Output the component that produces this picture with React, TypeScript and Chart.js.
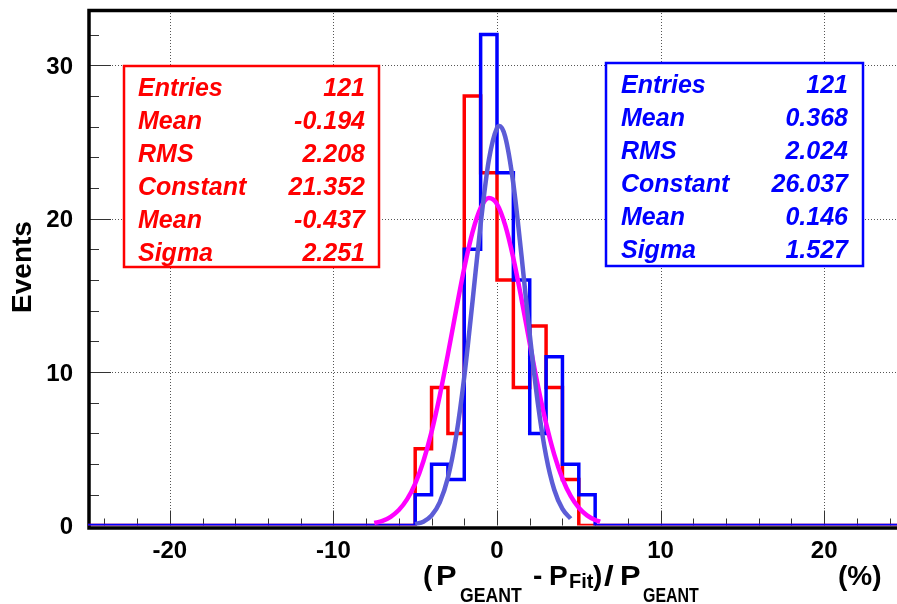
import React, { useEffect, useRef } from 'react';
import { Chart, registerables } from 'chart.js';

Chart.register(...registerables);

// ---------- data ----------
const binEdges = [-5, -4, -3, -2, -1, 0, 1, 2, 3, 4, 5, 6];
const redCounts = [5, 9, 6, 28, 23, 16, 9, 13, 9, 3, 0];
const blueCounts = [2, 4, 3, 18, 32, 23, 16, 6, 11, 4, 2];

const redFitX = [-7.5, -7, -6.5, -6, -5.5, -5, -4.5, -4, -3.5, -3, -2.5, -2, -1.5, -1, -0.5, 0, 0.5, 1, 1.5, 2, 2.5, 3, 3.5, 4, 4.5, 5, 5.5, 6, 6.3];
const redFitY = [0.16, 0.3, 0.57, 1.01, 1.7, 2.73, 4.19, 6.1, 8.46, 11.17, 14.03, 16.78, 19.1, 20.69, 21.34, 20.95, 19.58, 17.42, 14.75, 11.88, 9.11, 6.66, 4.62, 3.06, 1.93, 1.16, 0.66, 0.36, 0.24];

const blueFitX = [-5, -4.5, -4, -3.5, -3, -2.5, -2, -1.5, -1, -0.5, 0, 0.15, 0.5, 1, 1.5, 2, 2.5, 3, 3.5, 4, 4.5];
const blueFitY = [0.09, 0.25, 0.65, 1.51, 3.12, 5.8, 9.7, 14.57, 19.65, 23.81, 25.92, 26.04, 25.35, 22.27, 17.57, 12.46, 7.94, 4.54, 2.33, 1.08, 0.45];

const xMin = -25;
const xMax = 25;
const yMin = 0;
const yMax = 33.6;
const xTicks = [-20, -10, 0, 10, 20];
const yTicks = [0, 10, 20, 30];
const xMinorStep = 2;
const yMinorStep = 2;

const statLabels = ['Entries', 'Mean', 'RMS', 'Constant', 'Mean', 'Sigma'];
const redStatValues = ['121', '-0.194', '2.208', '21.352', '-0.437', '2.251'];
const blueStatValues = ['121', '0.368', '2.024', '26.037', '0.146', '1.527'];

const yTitle = 'Events';
const xUnit = '(%)';

// ---------- helpers ----------
const FONT = "'Liberation Sans', Arial, Helvetica, sans-serif";

function histPoints(edges: number[], counts: number[]) {
  // value at point i holds from edge i to the next point (stepped: 'before')
  const pts = [{ x: xMin, y: 0 }];
  edges.forEach((e, i) => pts.push({ x: e, y: i < counts.length ? counts[i] : 0 }));
  pts.push({ x: xMax, y: 0 });
  return pts;
}

function curvePoints(xs: number[], ys: number[]) {
  return xs.map((x, i) => ({ x, y: ys[i] }));
}

function txt(ctx: CanvasRenderingContext2D, s: string, x: number, y: number, font: string, sx = 1, align: CanvasTextAlign = 'left') {
  ctx.save();
  ctx.translate(x, y);
  ctx.scale(sx, 1);
  ctx.font = font;
  ctx.textAlign = align;
  ctx.textBaseline = 'alphabetic';
  ctx.fillText(s, 0, 0);
  ctx.restore();
}

function statsBox(
  ctx: CanvasRenderingContext2D,
  color: string,
  l: number, t: number, r: number, b: number,
  labelX: number, valueX: number, row0: number, rowStep: number,
  values: string[]
) {
  ctx.save();
  ctx.fillStyle = '#ffffff';
  ctx.fillRect(l, t, r - l, b - t);
  ctx.strokeStyle = color;
  ctx.lineWidth = 2.5;
  ctx.strokeRect(l, t, r - l, b - t);
  ctx.fillStyle = color;
  const f = `italic bold 25px ${FONT}`;
  statLabels.forEach((lab, i) => {
    const by = row0 + i * rowStep + 9;
    txt(ctx, lab, labelX, by, f, 1, 'left');
    txt(ctx, values[i], valueX, by, f, 1, 'right');
  });
  ctx.restore();
}

const overlay = {
  id: 'overlay',
  beforeDatasetsDraw(chart: any) {
    const { ctx, chartArea: a } = chart;
    const xs = chart.scales.x;
    const ys = chart.scales.y;
    ctx.save();
    // dotted grid
    ctx.strokeStyle = '#555';
    ctx.lineWidth = 1;
    ctx.setLineDash([1, 2]);
    xTicks.forEach((v) => {
      const px = Math.round(xs.getPixelForValue(v)) + 0.5;
      ctx.beginPath();
      ctx.moveTo(px, a.top);
      ctx.lineTo(px, a.bottom);
      ctx.stroke();
    });
    yTicks.filter((v) => v > yMin).forEach((v) => {
      const py = Math.round(ys.getPixelForValue(v)) + 0.5;
      ctx.beginPath();
      ctx.moveTo(a.left, py);
      ctx.lineTo(a.right, py);
      ctx.stroke();
    });
    ctx.setLineDash([]);
    // inward tick marks
    ctx.strokeStyle = '#333';
    ctx.lineWidth = 1;
    for (let v = xMin + 1; v < xMax; v += 1) {
      if (v % xMinorStep !== 0) continue;
      const major = v % 10 === 0;
      const px = Math.round(xs.getPixelForValue(v)) + 0.5;
      ctx.beginPath();
      ctx.moveTo(px, a.bottom);
      ctx.lineTo(px, a.bottom - (major ? 15 : 7));
      ctx.stroke();
    }
    for (let v = yMin + yMinorStep; v < yMax; v += yMinorStep) {
      const major = v % 10 === 0;
      const py = Math.round(ys.getPixelForValue(v)) + 0.5;
      ctx.beginPath();
      ctx.moveTo(a.left, py);
      ctx.lineTo(a.left + (major ? 23 : 11), py);
      ctx.stroke();
    }
    // frame
    ctx.strokeStyle = '#000';
    ctx.lineWidth = 3.5;
    ctx.beginPath();
    ctx.moveTo(a.right + 6, a.top + 0.5);
    ctx.lineTo(a.left + 1, a.top + 0.5);
    ctx.lineTo(a.left + 1, a.bottom + 2.5);
    ctx.lineTo(a.right + 6, a.bottom + 2.5);
    ctx.stroke();
    ctx.restore();
  },
  afterDatasetsDraw(chart: any) {
    const { ctx } = chart;
    statsBox(ctx, '#ff0000', 124, 66, 379, 267, 138, 365, 86.5, 33.1, redStatValues);
    statsBox(ctx, '#0000ff', 606, 63, 863, 266, 621, 848, 83.5, 33.1, blueStatValues);

    ctx.save();
    ctx.fillStyle = '#000';
    // y title
    ctx.translate(23, 267);
    ctx.rotate(-Math.PI / 2);
    ctx.font = `bold 28px ${FONT}`;
    ctx.textAlign = 'center';
    ctx.textBaseline = 'middle';
    ctx.fillText(yTitle, 0, 0);
    ctx.restore();

    // x title
    ctx.save();
    ctx.fillStyle = '#000';
    const main = `bold 28px ${FONT}`;
    const sub = `bold 21px ${FONT}`;
    const base = 585;
    txt(ctx, '(', 423, base, main);
    txt(ctx, 'P', 436, base, main, 1.1);
    txt(ctx, 'GEANT', 460, 602, sub, 0.84);
    txt(ctx, '-', 533, base, main);
    txt(ctx, 'P', 549, base, main, 1.0);
    txt(ctx, 'Fit', 569, 588, sub, 0.95);
    txt(ctx, ')', 593, base, main);
    txt(ctx, '/', 604, base, main, 1.25);
    txt(ctx, 'P', 620, base, main, 1.1);
    txt(ctx, 'GEANT', 643, 602, sub, 0.76);
    txt(ctx, xUnit, 838, base, main);
    ctx.restore();
  },
};

export default function App() {
  const ref = useRef<HTMLCanvasElement>(null);

  useEffect(() => {
    if (!ref.current) return;
    const tickFont = { family: FONT, size: 24, weight: 'bold' as const };
    const chart = new Chart(ref.current, {
      type: 'line',
      data: {
        datasets: [
          {
            label: 'blue fit',
            data: curvePoints(blueFitX, blueFitY),
            borderColor: 'rgb(92,92,214)',
            borderWidth: 4.5,
            pointRadius: 0,
            fill: false,
            cubicInterpolationMode: 'monotone',
            order: 0,
          },
          {
            label: 'red fit',
            data: curvePoints(redFitX, redFitY),
            borderColor: '#ff00ff',
            borderWidth: 4.5,
            pointRadius: 0,
            fill: false,
            cubicInterpolationMode: 'monotone',
            order: 1,
          },
          {
            label: 'blue',
            data: histPoints(binEdges, blueCounts),
            borderColor: '#0000ff',
            borderWidth: 3.5,
            pointRadius: 0,
            fill: false,
            stepped: 'before',
            order: 2,
          },
          {
            label: 'red',
            data: histPoints(binEdges, redCounts),
            borderColor: '#ff0000',
            borderWidth: 3.5,
            pointRadius: 0,
            fill: false,
            stepped: 'before',
            order: 3,
          },
        ],
      },
      options: {
        responsive: false,
        maintainAspectRatio: false,
        animation: false,
        devicePixelRatio: 1,
        layout: { padding: { left: 0, top: 10, right: 4, bottom: 0 } },
        plugins: { legend: { display: false }, tooltip: { enabled: false } },
        scales: {
          x: {
            type: 'linear',
            min: xMin,
            max: xMax,
            grid: { display: false, drawTicks: false },
            border: { display: false },
            afterBuildTicks: (s: any) => {
              s.ticks = xTicks.map((v) => ({ value: v }));
            },
            afterFit: (s: any) => {
              s.height = 78.5;
              s.paddingLeft = 0;
              s.paddingRight = 0;
            },
            ticks: {
              font: tickFont,
              color: '#000',
              padding: 11,
              maxRotation: 0,
              autoSkip: false,
              callback: (v: any) => String(v),
            },
          },
          y: {
            type: 'linear',
            min: yMin,
            max: yMax,
            grid: { display: false, drawTicks: false },
            border: { display: false },
            afterBuildTicks: (s: any) => {
              s.ticks = yTicks.map((v) => ({ value: v }));
            },
            afterFit: (s: any) => {
              s.width = 88;
              s.paddingTop = 0;
              s.paddingBottom = 0;
            },
            ticks: {
              font: tickFont,
              color: '#000',
              padding: 15,
              labelOffset: 2,
              autoSkip: false,
              callback: (v: any) => String(v),
            },
          },
        },
      },
      plugins: [overlay],
    } as any);
    return () => chart.destroy();
  }, []);

  return (
    <div
      style={{
        position: 'fixed',
        left: 0,
        top: 0,
        width: 897,
        height: 604,
        overflow: 'hidden',
        background: '#fff',
      }}
    >
      <canvas ref={ref} width={910} height={604} style={{ display: 'block', width: 910, height: 604 }} />
    </div>
  );
}
